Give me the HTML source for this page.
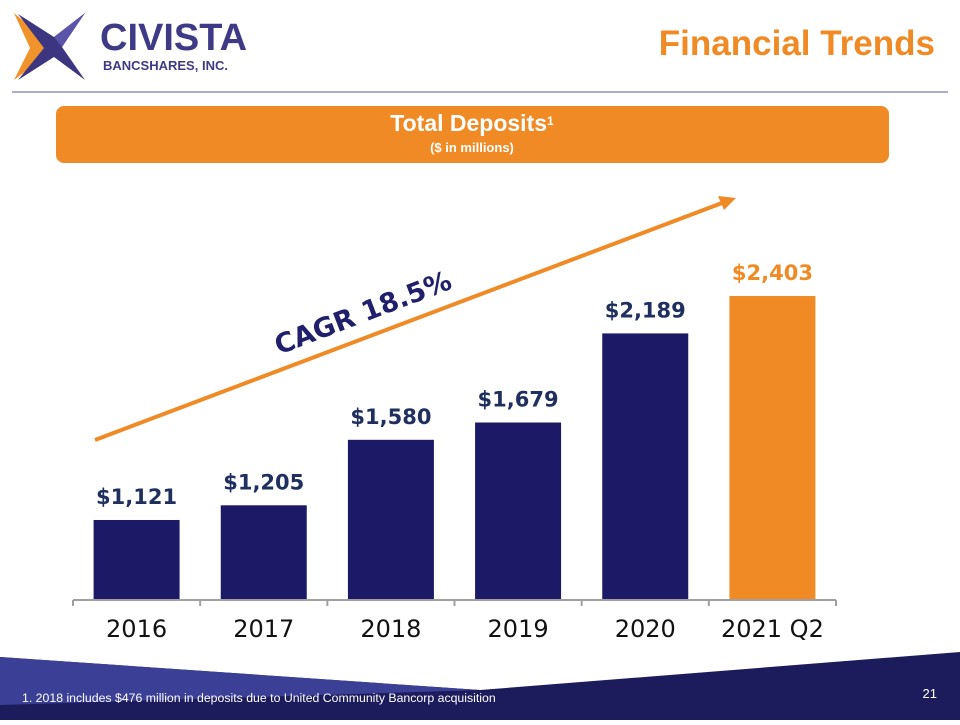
<!DOCTYPE html>
<html><head><meta charset="utf-8"><style>
body{margin:0;width:960px;height:720px;overflow:hidden;background:#fff;font-family:"Liberation Sans",sans-serif}
</style></head><body>
<svg width="960" height="720" viewBox="0 0 960 720" xmlns="http://www.w3.org/2000/svg">
<g>
<polygon points="14,13 46,40 52,48 46,56 14,80 30,48" fill="#f0932b"/>
<polygon points="18,14 54,37 85,13 62,47 85,80 54,57 18,80 44,48" fill="#3c3580"/>
<polygon points="54,37 85,13 62,47" fill="#5b54a8"/>
<text x="100" y="50" font-size="38" font-weight="bold" fill="#3f3a86">CIVISTA</text>
<text x="103" y="70" font-size="13" font-weight="bold" fill="#3f3a86">BANCSHARES, INC.</text>
</g>
<text x="935" y="55" text-anchor="end" font-size="35" font-weight="bold" fill="#ef8a25">Financial Trends</text>
<line x1="12" y1="92" x2="948" y2="92" stroke="#8a90b8" stroke-width="1.5"/>
<rect x="56" y="106" width="833" height="57" rx="8" fill="#ef8a25"/>
<text x="472" y="131" text-anchor="middle" font-size="23" font-weight="bold" fill="#fff">Total Deposits<tspan font-size="12" dy="-6">1</tspan></text>
<text x="472" y="152" text-anchor="middle" font-size="13" font-weight="bold" fill="#fff">($ in millions)</text>
<g id="chart"></g>
<line x1="95" y1="440" x2="722" y2="203" stroke="#ef8a25" stroke-width="4"/>
<polygon points="736,198 718,196 724,210" fill="#ef8a25"/>
<text x="363" y="322" text-anchor="middle" font-size="27" font-weight="bold" fill="#1f1f6b" font-family="'DejaVu Sans',sans-serif" transform="rotate(-21 363 313)">CAGR 18.5%</text>
<polygon points="0,657 480,690 960,652 960,720 0,720" fill="#1c1c5c"/>
<polygon points="0,657 480,690 0,705" fill="#3b4096"/>
<text x="22" y="702" font-size="12.3" fill="#fff">1. 2018 includes $476 million in deposits due to United Community Bancorp acquisition</text>
<text x="937" y="698" text-anchor="end" font-size="13" fill="#fff">21</text>
</svg>
<script>
const categories=["2016","2017","2018","2019","2020","2021 Q2"];
const values=[1121,1205,1580,1679,2189,2403];
const valueLabels=["$1,121","$1,205","$1,580","$1,679","$2,189","$2,403"];
const NS="http://www.w3.org/2000/svg";
const g=document.getElementById("chart");
const x0=73,x1=836,base=600,vmin=663,scale=0.1747;
const step=(x1-x0)/categories.length;
function yPos(v){return base-(v-vmin)*scale;}
function mk(t,a){const e=document.createElementNS(NS,t);for(const k in a)e.setAttribute(k,a[k]);g.appendChild(e);return e;}
categories.forEach((c,i)=>{
 const cx=x0+step*(i+0.5), last=i===categories.length-1;
 const y=yPos(values[i]);
 const r=mk("rect",{x:cx-43,y:y,width:86,height:base-y,fill:last?"#ef8a25":"#1c1a66"});
 
 
 const t=mk("text",{x:cx,y:y-16,"text-anchor":"middle","font-size":"21","font-weight":"bold","font-family":"'DejaVu Sans',sans-serif",fill:last?"#ef8a25":"#1f2f5e"});
 t.textContent=valueLabels[i];
 
 
 const l=mk("text",{x:cx,y:637,"text-anchor":"middle","font-size":"24","font-family":"'DejaVu Sans',sans-serif",fill:"#111"});
 l.textContent=c;
 
 
});
const ax=mk("line",{x1:x0,y1:base,x2:x1,y2:base,stroke:"#a0a0a0","stroke-width":"2"});


for(let i=0;i<=categories.length;i++){
 const tk=mk("line",{x1:x0+step*i,y1:base,x2:x0+step*i,y2:base+6,stroke:"#a0a0a0","stroke-width":"2"});
 
 
}
</script>
</body></html>
